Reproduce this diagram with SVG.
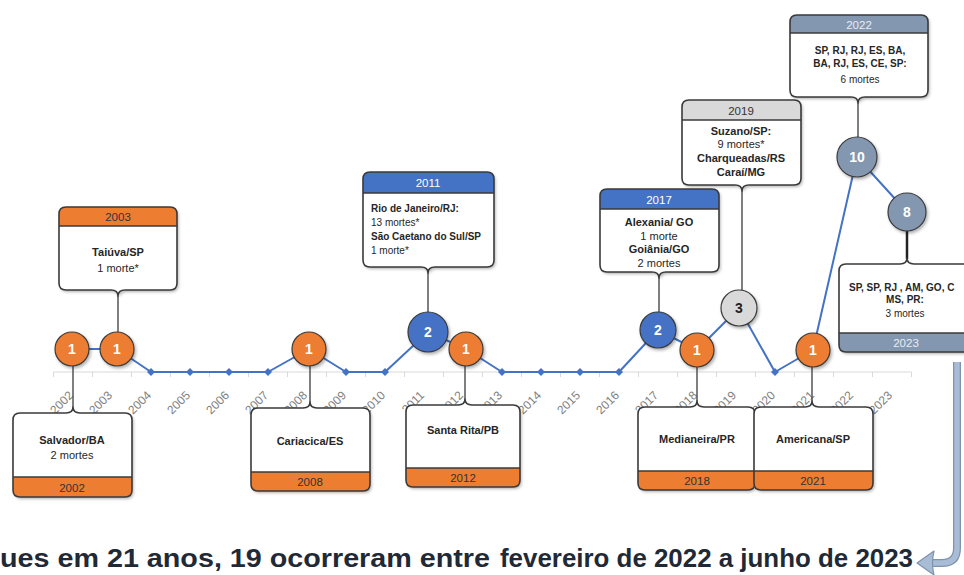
<svg xmlns="http://www.w3.org/2000/svg" width="964" height="575" viewBox="0 0 964 575">
<defs>
<filter id="sh" x="-20%" y="-20%" width="140%" height="140%">
<feDropShadow dx="1.5" dy="2" stdDeviation="1.5" flood-color="#000" flood-opacity="0.3"/>
</filter>
<style>
.box{fill:#fff;stroke:none;filter:url(#sh)}
.edge{fill:none;stroke:#3a3a3a;stroke-width:1.6;stroke-linejoin:round}
.hO{fill:#ED7D31}.hB{fill:#4472C4}.hG{fill:#D9D9D9}.hS{fill:#8497B0}
.div{stroke:#3a3a3a;stroke-width:1.4}
.stem{stroke:#555;stroke-width:1.5}
.line{fill:none;stroke:#4472C4;stroke-width:2;stroke-linejoin:round}
.dia{fill:#4472C4}
.axis{stroke:#d9d9d9;stroke-width:1}
.yr{font-family:"Liberation Sans",Arial,sans-serif;font-size:12px;fill:#7f7f7f;text-anchor:end}
.t{font-family:"Liberation Sans",Arial,sans-serif;font-size:11px;fill:#262626;text-anchor:middle}
.s{font-size:10px}
.l{text-anchor:start}
.b{font-weight:bold}
.hd{font-family:"Liberation Sans",Arial,sans-serif;font-size:11.5px;text-anchor:middle}
.c{stroke:#3a3a3a;stroke-width:1.2;filter:url(#sh)}
.cn{font-family:"Liberation Sans",Arial,sans-serif;font-weight:bold;font-size:14px;fill:#fff;text-anchor:middle}
</style>
</defs>
<rect width="964" height="575" fill="#fff"/>

<g id="axis">
<line class="axis" x1="53.5" y1="372" x2="911.5" y2="372"/>
<path class="axis" d="M53.5,372v5M92.5,372v5M131.5,372v5M170.5,372v5M209.5,372v5M248.5,372v5M287.5,372v5M326.5,372v5M365.5,372v5M404.5,372v5M443.5,372v5M482.5,372v5M521.5,372v5M560.5,372v5M599.5,372v5M638.5,372v5M677.5,372v5M716.5,372v5M755.5,372v5M794.5,372v5M833.5,372v5M872.5,372v5M911.5,372v5"/>
<text class="yr" transform="translate(74,396) rotate(-45)">2002</text>
<text class="yr" transform="translate(113,396) rotate(-45)">2003</text>
<text class="yr" transform="translate(152,396) rotate(-45)">2004</text>
<text class="yr" transform="translate(191,396) rotate(-45)">2005</text>
<text class="yr" transform="translate(230,396) rotate(-45)">2006</text>
<text class="yr" transform="translate(269,396) rotate(-45)">2007</text>
<text class="yr" transform="translate(308,396) rotate(-45)">2008</text>
<text class="yr" transform="translate(347,396) rotate(-45)">2009</text>
<text class="yr" transform="translate(386,396) rotate(-45)">2010</text>
<text class="yr" transform="translate(425,396) rotate(-45)">2011</text>
<text class="yr" transform="translate(464,396) rotate(-45)">2012</text>
<text class="yr" transform="translate(503,396) rotate(-45)">2013</text>
<text class="yr" transform="translate(542,396) rotate(-45)">2014</text>
<text class="yr" transform="translate(581,396) rotate(-45)">2015</text>
<text class="yr" transform="translate(620,396) rotate(-45)">2016</text>
<text class="yr" transform="translate(659,396) rotate(-45)">2017</text>
<text class="yr" transform="translate(698,396) rotate(-45)">2018</text>
<text class="yr" transform="translate(737,396) rotate(-45)">2019</text>
<text class="yr" transform="translate(776,396) rotate(-45)">2020</text>
<text class="yr" transform="translate(815,396) rotate(-45)">2021</text>
<text class="yr" transform="translate(854,396) rotate(-45)">2022</text>
<text class="yr" transform="translate(893,396) rotate(-45)">2023</text>
</g>

<g id="connectors">
<polyline class="line" points="72,349 117,349 151,372 190,372 229,372 268,372 309,349 346,372 385,372 428,332 466,349 502,372 541,372 580,372 619,372 658,330 697,350 739,308 775,372 813,350 857,157 907,212"/>
<path class="dia" d="M151,368l4,4l-4,4l-4,-4zM190,368l4,4l-4,4l-4,-4zM229,368l4,4l-4,4l-4,-4zM268,368l4,4l-4,4l-4,-4zM346,368l4,4l-4,4l-4,-4zM385,368l4,4l-4,4l-4,-4zM502,368l4,4l-4,4l-4,-4zM541,368l4,4l-4,4l-4,-4zM580,368l4,4l-4,4l-4,-4zM619,368l4,4l-4,4l-4,-4zM775,368l4,4l-4,4l-4,-4z"/>
<path class="stem" d="M118,296V332M428,273V312M659,278V312M742,191V291M858,103V137M73,366V407M310,366V402M465,366V399M697,367V401M812,367V401"/>
<path stroke="#222" stroke-width="2.5" d="M907,231V259"/>
</g>

<g id="n2002">
<path class="box" d="M20,413 H66 Q73,413 73,407 Q73,413 80,413 H125 Q132,413 132,420 V490 Q132,497 125,497 H20 Q13,497 13,490 V420 Q13,413 20,413 Z"/>
<path class="hO" d="M13,477 H132 V490 Q132,497 125,497 H20 Q13,497 13,490 Z"/>
<line class="div" x1="13" y1="477" x2="132" y2="477"/>
<path class="edge" d="M20,413 H66 Q73,413 73,407 Q73,413 80,413 H125 Q132,413 132,420 V490 Q132,497 125,497 H20 Q13,497 13,490 V420 Q13,413 20,413 Z"/>
<text class="t b" x="72" y="444">Salvador/BA</text>
<text class="t" x="72" y="459">2 mortes</text>
<text class="hd" x="72" y="492" fill="#333">2002</text>
<circle class="c hO" cx="72" cy="349" r="17"/>
<text class="cn" x="72" y="354">1</text>
</g>

<g id="n2003">
<path class="box" d="M66,207 H170 Q177,207 177,214 V283 Q177,290 170,290 H125 Q118,290 118,296 Q118,290 111,290 H66 Q59,290 59,283 V214 Q59,207 66,207 Z"/>
<path class="hO" d="M59,226 V214 Q59,207 66,207 H170 Q177,207 177,214 V226 Z"/>
<line class="div" x1="59" y1="226" x2="177" y2="226"/>
<path class="edge" d="M66,207 H170 Q177,207 177,214 V283 Q177,290 170,290 H125 Q118,290 118,296 Q118,290 111,290 H66 Q59,290 59,283 V214 Q59,207 66,207 Z"/>
<text class="hd" x="118" y="221" fill="#333">2003</text>
<text class="t b" x="118" y="256">Taiúva/SP</text>
<text class="t" x="118" y="272">1 morte*</text>
<circle class="c hO" cx="117" cy="349" r="17"/>
<text class="cn" x="117" y="354">1</text>
</g>

<g id="n2008">
<path class="box" d="M258,408 H303 Q310,408 310,402 Q310,408 317,408 H363 Q370,408 370,415 V484 Q370,491 363,491 H258 Q251,491 251,484 V415 Q251,408 258,408 Z"/>
<path class="hO" d="M251,472 H370 V484 Q370,491 363,491 H258 Q251,491 251,484 Z"/>
<line class="div" x1="251" y1="472" x2="370" y2="472"/>
<path class="edge" d="M258,408 H303 Q310,408 310,402 Q310,408 317,408 H363 Q370,408 370,415 V484 Q370,491 363,491 H258 Q251,491 251,484 V415 Q251,408 258,408 Z"/>
<text class="t b" x="310" y="445">Cariacica/ES</text>
<text class="hd" x="310" y="486" fill="#333">2008</text>
<circle class="c hO" cx="309" cy="349" r="17"/>
<text class="cn" x="309" y="354">1</text>
</g>

<g id="n2011">
<path class="box" d="M370,172 H487 Q494,172 494,179 V260 Q494,267 487,267 H435 Q428,267 428,273 Q428,267 421,267 H370 Q363,267 363,260 V179 Q363,172 370,172 Z"/>
<path class="hB" d="M363,193 V179 Q363,172 370,172 H487 Q494,172 494,179 V193 Z"/>
<line class="div" x1="363" y1="193" x2="494" y2="193"/>
<path class="edge" d="M370,172 H487 Q494,172 494,179 V260 Q494,267 487,267 H435 Q428,267 428,273 Q428,267 421,267 H370 Q363,267 363,260 V179 Q363,172 370,172 Z"/>
<text class="hd" x="428" y="187" fill="#fff">2011</text>
<text class="t s b l" x="371" y="212">Rio de Janeiro/RJ:</text>
<text class="t s l" x="371" y="226">13 mortes*</text>
<text class="t s b l" x="371" y="240">São Caetano do Sul/SP</text>
<text class="t s l" x="371" y="254">1 morte*</text>
<circle class="c hB" cx="428" cy="332" r="20"/>
<text class="cn" x="428" y="337">2</text>
</g>

<g id="n2012">
<path class="box" d="M413,405 H458 Q465,405 465,399 Q465,405 472,405 H513 Q520,405 520,412 V480 Q520,487 513,487 H413 Q406,487 406,480 V412 Q406,405 413,405 Z"/>
<path class="hO" d="M406,468 H520 V480 Q520,487 513,487 H413 Q406,487 406,480 Z"/>
<line class="div" x1="406" y1="468" x2="520" y2="468"/>
<path class="edge" d="M413,405 H458 Q465,405 465,399 Q465,405 472,405 H513 Q520,405 520,412 V480 Q520,487 513,487 H413 Q406,487 406,480 V412 Q406,405 413,405 Z"/>
<text class="t b" x="463" y="434">Santa Rita/PB</text>
<text class="hd" x="463" y="482" fill="#333">2012</text>
<circle class="c hO" cx="466" cy="349" r="17"/>
<text class="cn" x="466" y="354">1</text>
</g>

<g id="n2017">
<path class="box" d="M607,189 H712 Q719,189 719,196 V265 Q719,272 712,272 H666 Q659,272 659,278 Q659,272 652,272 H607 Q600,272 600,265 V196 Q600,189 607,189 Z"/>
<path class="hB" d="M600,209 V196 Q600,189 607,189 H712 Q719,189 719,196 V209 Z"/>
<line class="div" x1="600" y1="209" x2="719" y2="209"/>
<path class="edge" d="M607,189 H712 Q719,189 719,196 V265 Q719,272 712,272 H666 Q659,272 659,278 Q659,272 652,272 H607 Q600,272 600,265 V196 Q600,189 607,189 Z"/>
<text class="hd" x="659" y="204" fill="#fff">2017</text>
<text class="t b" x="659" y="226">Alexania/ GO</text>
<text class="t" x="659" y="240">1 morte</text>
<text class="t b" x="659" y="253">Goiânia/GO</text>
<text class="t" x="659" y="267">2 mortes</text>
<circle class="c hB" cx="658" cy="330" r="18"/>
<text class="cn" x="658" y="335">2</text>
</g>

<g id="n2018">
<path class="box" d="M645,407 H690 Q697,407 697,401 Q697,407 704,407 H748 Q755,407 755,414 V483 Q755,490 748,490 H645 Q638,490 638,483 V414 Q638,407 645,407 Z"/>
<path class="hO" d="M638,471 H755 V483 Q755,490 748,490 H645 Q638,490 638,483 Z"/>
<line class="div" x1="638" y1="471" x2="755" y2="471"/>
<path class="edge" d="M645,407 H690 Q697,407 697,401 Q697,407 704,407 H748 Q755,407 755,414 V483 Q755,490 748,490 H645 Q638,490 638,483 V414 Q638,407 645,407 Z"/>
<text class="t b" x="697" y="443">Medianeira/PR</text>
<text class="hd" x="697" y="485" fill="#333">2018</text>
<circle class="c hO" cx="697" cy="350" r="17"/>
<text class="cn" x="697" y="355">1</text>
</g>

<g id="n2019">
<path class="box" d="M689,100 H794 Q801,100 801,107 V178 Q801,185 794,185 H749 Q742,185 742,191 Q742,185 735,185 H689 Q682,185 682,178 V107 Q682,100 689,100 Z"/>
<path class="hG" d="M682,120 V107 Q682,100 689,100 H794 Q801,100 801,107 V120 Z"/>
<line class="div" x1="682" y1="120" x2="801" y2="120"/>
<path class="edge" d="M689,100 H794 Q801,100 801,107 V178 Q801,185 794,185 H749 Q742,185 742,191 Q742,185 735,185 H689 Q682,185 682,178 V107 Q682,100 689,100 Z"/>
<text class="hd" x="741" y="115" fill="#333">2019</text>
<text class="t b" x="741" y="135">Suzano/SP:</text>
<text class="t" x="741" y="148">9 mortes*</text>
<text class="t b" x="741" y="162">Charqueadas/RS</text>
<text class="t b" x="741" y="176">Caraí/MG</text>
<circle class="c hG" cx="739" cy="308" r="18"/>
<text class="cn" x="739" y="313" style="fill:#222">3</text>
</g>

<g id="n2021">
<path class="box" d="M761,407 H805 Q812,407 812,401 Q812,407 819,407 H866 Q873,407 873,414 V483 Q873,490 866,490 H761 Q754,490 754,483 V414 Q754,407 761,407 Z"/>
<path class="hO" d="M754,471 H873 V483 Q873,490 866,490 H761 Q754,490 754,483 Z"/>
<line class="div" x1="754" y1="471" x2="873" y2="471"/>
<path class="edge" d="M761,407 H805 Q812,407 812,401 Q812,407 819,407 H866 Q873,407 873,414 V483 Q873,490 866,490 H761 Q754,490 754,483 V414 Q754,407 761,407 Z"/>
<text class="t b" x="813" y="443">Americana/SP</text>
<text class="hd" x="813" y="485" fill="#333">2021</text>
<circle class="c hO" cx="813" cy="350" r="17"/>
<text class="cn" x="813" y="355">1</text>
</g>

<g id="n2022">
<path class="box" d="M797,15 H921 Q928,15 928,22 V90 Q928,97 921,97 H865 Q858,97 858,103 Q858,97 851,97 H797 Q790,97 790,90 V22 Q790,15 797,15 Z"/>
<path class="hS" d="M790,33 V22 Q790,15 797,15 H921 Q928,15 928,22 V33 Z"/>
<line class="div" x1="790" y1="33" x2="928" y2="33"/>
<path class="edge" d="M797,15 H921 Q928,15 928,22 V90 Q928,97 921,97 H865 Q858,97 858,103 Q858,97 851,97 H797 Q790,97 790,90 V22 Q790,15 797,15 Z"/>
<text class="hd" x="859" y="29" fill="#e8edf4">2022</text>
<text class="t s b" x="860" y="54">SP, RJ, RJ, ES, BA,</text>
<text class="t s b" x="860" y="67">BA, RJ, ES, CE, SP:</text>
<text class="t s" x="860" y="83">6 mortes</text>
<circle class="c hS" cx="857" cy="157" r="20"/>
<text class="cn" x="857" y="162">10</text>
</g>

<g id="n2023">
<path class="box" d="M846,264 H900 Q907,264 907,258 Q907,264 914,264 H965 Q972,264 972,271 V345 Q972,352 965,352 H846 Q839,352 839,345 V271 Q839,264 846,264 Z"/>
<path class="hS" d="M839,333 H972 V345 Q972,352 965,352 H846 Q839,352 839,345 Z"/>
<line class="div" x1="839" y1="333" x2="972" y2="333"/>
<path class="edge" d="M846,264 H900 Q907,264 907,258 Q907,264 914,264 H965 Q972,264 972,271 V345 Q972,352 965,352 H846 Q839,352 839,345 V271 Q839,264 846,264 Z"/>
<text class="t s b l" x="849" y="291">SP, SP, RJ , AM, GO, C</text>
<text class="t s b" x="905" y="303">MS, PR:</text>
<text class="t s" x="905" y="317">3 mortes</text>
<text class="hd" x="906" y="347" fill="#e8edf4">2023</text>
<circle class="c hS" cx="907" cy="212" r="19"/>
<text class="cn" x="907" y="217">8</text>
</g>

<g id="arrow">
<path d="M957,362 V548 Q957,563 942,563 H932" fill="none" stroke="#7f93ae" stroke-width="8"/>
<path d="M957,362 V548 Q957,563 942,563 H932" fill="none" stroke="#a9bcd6" stroke-width="5.5"/>
<path d="M917,563 L934,551 Q931,563 934,575 Z" fill="#a9bcd6" stroke="#7f93ae" stroke-width="1.2" stroke-linejoin="round"/>
</g>

<g id="caption" font-family="'Liberation Sans',Arial,sans-serif" font-weight="bold" fill="#1f2a36">
<text x="0" y="567" font-size="26" textLength="490" lengthAdjust="spacingAndGlyphs">ues em 21 anos, 19 ocorreram entre</text>
<text x="500" y="567" font-size="25" textLength="413" lengthAdjust="spacingAndGlyphs">fevereiro de 2022 a junho de 2023</text>
</g>
</svg>
